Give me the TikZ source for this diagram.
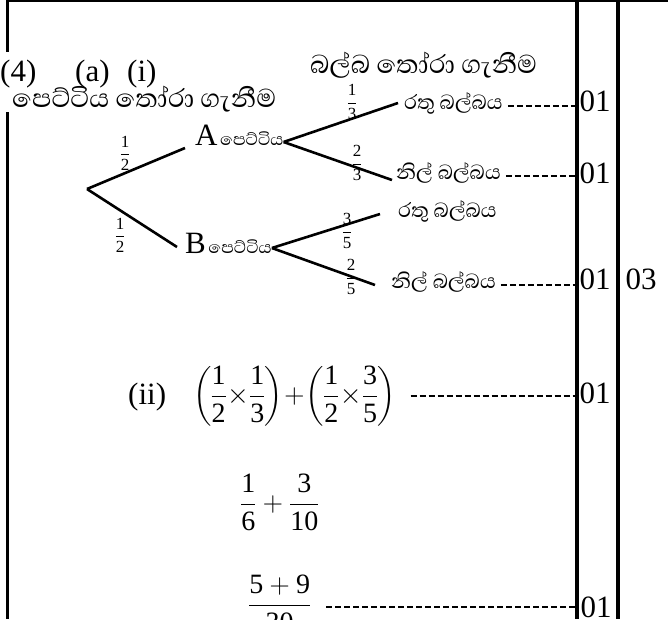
\RequirePackage{fix-cm}
\documentclass[tikz,border=0pt]{standalone}
\usepackage{amsmath}
\usepackage{fontspec}
\setmainfont{Liberation Serif}
\newfontfamily\sinhala[Script=Sinhala]{Abhaya Libre}
\usetikzlibrary{positioning}
\newcommand{\digs}[1]{\text{#1}}

\begin{document}
\begin{tikzpicture}[x=1pt, y=-1pt,
  lat/.style={inner sep=0pt, font=\fontsize{31}{36}\selectfont},
  big/.style={inner sep=0pt, font=\fontsize{33}{38}\selectfont\sinhala},
  leaf/.style={inner sep=0pt, font=\fontsize{26}{30}\selectfont\sinhala},
  frc/.style={inner sep=0pt, font=\fontsize{17}{20}\selectfont},
  eqn/.style={inner sep=0pt, font=\fontsize{28}{34}\selectfont},
  branch/.style={line width=2.6pt},
  lead/.style={line width=1.3pt, dash pattern=on 6pt off 3pt},
  colrule/.style={line width=3.5pt}
]
  \useasboundingbox (0,0) rectangle (668,619);
  \clip (0,0) rectangle (668,619);

  %% -- frame and mark columns
  \draw[line width=2pt] (7,1) -- (668,1);
  \draw[line width=3pt] (7,0) -- (7,52);
  \draw[line width=3pt] (7,112) -- (7,619);
  \draw[colrule] (577,0) -- (577,619);
  \draw[colrule] (618,0) -- (618,619);

  %% -- question header
  \node[lat, anchor=base west] (q4) at (0,81) {(4)};
  \node[lat, anchor=base west] (qa) at (75,81) {(a)};
  \node[lat, anchor=base west] (qi) at (127,81) {(i)};
  \node[big, anchor=west] (hbulb) at (310,65) {බල්බ තෝරා ගැනීම};
  \node[big, anchor=west] (hbox) at (12,99) {පෙට්ටිය තෝරා ගැනීම};

  %% -- tree
  \coordinate (root) at (87,189);
  \node[inner sep=0pt, anchor=base west] (boxA) at (195,145)
    {{\fontsize{31}{36}\selectfont A} {\fontsize{21.5}{25}\selectfont\sinhala පෙට්ටිය}};
  \node[inner sep=0pt, anchor=base west] (boxB) at (185,253)
    {{\fontsize{31}{36}\selectfont B} {\fontsize{21.5}{25}\selectfont\sinhala පෙට්ටිය}};

  \node[leaf, anchor=west] (AR) at (404,103) {රතු බල්බය};
  \node[leaf, anchor=west] (AN) at (396,173) {නිල් බල්බය};
  \node[leaf, anchor=west] (BR) at (398,211) {රතු බල්බය};
  \node[leaf, anchor=west] (BN) at (391,282) {නිල් බල්බය};

  \draw[branch] (root) -- ([shift={(-10,3)}]boxA.base west);
  \draw[branch] (root) -- ([shift={(-8,-6)}]boxB.base west);
  \draw[branch] ([yshift=3pt]boxA.base east) -- ([xshift=-6pt]AR.west);
  \draw[branch] ([yshift=3pt]boxA.base east) -- ([shift={(-4,7)}]AN.west);
  \draw[branch] ([yshift=5pt]boxB.base east) -- ([shift={(-18,3)}]BR.west);
  \draw[branch] ([yshift=5pt]boxB.base east) -- ([shift={(-16,3)}]BN.west);

  %% probabilities
  \node[frc] (pA)  at (125,153) {$\dfrac{\digs{1}}{\digs{2}}$};
  \node[frc] (pB)  at (120,235) {$\dfrac{\digs{1}}{\digs{2}}$};
  \node[frc] (pAR) at (352,102) {$\dfrac{\digs{1}}{\digs{3}}$};
  \node[frc] (pAN) at (357,163) {$\dfrac{\digs{2}}{\digs{3}}$};
  \node[frc] (pBR) at (347,231) {$\dfrac{\digs{3}}{\digs{5}}$};
  \node[frc] (pBN) at (351,277) {$\dfrac{\digs{2}}{\digs{5}}$};

  %% -- marks
  \node[lat] (m1) at (595,101) {01};
  \node[lat] (m2) at (595,173) {01};
  \node[lat] (m3) at (595,279) {01};
  \node[lat] (m3t) at (641,279) {03};
  \draw[lead] ([shift={(5,3)}]AR.east) -- ([shift={(-3,3)}]AR.east -| m1.west);
  \draw[lead] ([shift={(5,3)}]AN.east) -- ([shift={(-3,3)}]AN.east -| m2.west);
  \draw[lead] ([shift={(5,3)}]BN.east) -- ([shift={(-3,3)}]BN.east -| m3.west);

  %% -- part (ii)
  \node[lat, anchor=base west] (qii) at (128,404) {(ii)};
  \node[eqn, anchor=west] (sum1) at (193,396)
    {$\displaystyle\medmuskip=1mu\nulldelimiterspace=0pt
      \left(\frac{\digs{1}}{\digs{2}}\times\frac{\digs{1}}{\digs{3}}\right)+\left(\frac{\digs{1}}{\digs{2}}\times\frac{\digs{3}}{\digs{5}}\right)$};
  \node[eqn, anchor=west] (sum2) at (240,502)
    {$\displaystyle\frac{\digs{1}}{\digs{6}}+\frac{\digs{3}}{\digs{10}}$};
  \node[eqn, anchor=west] (sum3) at (248,603)
    {$\displaystyle\frac{\digs{5}+\digs{9}}{\digs{30}}$};
  \node[lat] (m4) at (595,393) {01};
  \node[lat] (m5) at (596,607) {01};
  \draw[lead] ([shift={(15,0)}]sum1.east) -- ([shift={(-3,0)}]sum1.east -| m4.west);
  \draw[lead] ([shift={(15,4)}]sum3.east) -- ([shift={(-3,4)}]sum3.east -| m5.west);
\end{tikzpicture}
\end{document}
